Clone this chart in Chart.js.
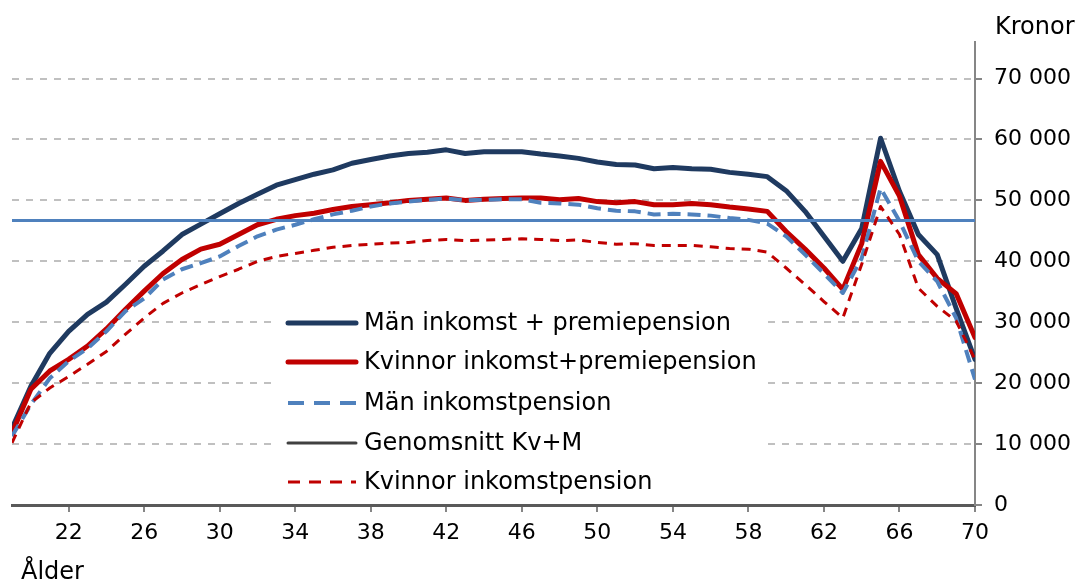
<!DOCTYPE html>
<html>
<head>
<meta charset="utf-8">
<script src="https://cdn.jsdelivr.net/npm/chart.js@4.4.0/dist/chart.umd.min.js"></script>
<style>
  body { margin: 0; background: #fff; }
</style>
</head>
<body>
<canvas id="chart" width="1085" height="584"></canvas>
<script>
const ages = [19, 20, 21, 22, 23, 24, 25, 26, 27, 28, 29, 30, 31, 32, 33, 34, 35, 36, 37, 38, 39, 40, 41, 42, 43, 44,
  45, 46, 47, 48, 49, 50, 51, 52, 53, 54, 55, 56, 57, 58, 59, 60, 61, 62, 63, 64, 65, 66, 67, 68, 69, 70];

const menTotal = [12600, 19500, 24900, 28500, 31300, 33300, 36200, 39200, 41700, 44400, 46100,
  47800, 49500, 51000, 52500, 53400, 54300, 55000, 56100, 56700, 57300,
  57700, 57900, 58300, 57700, 58000, 58000, 58000, 57600, 57300, 56900, 56300,
  55900, 55800, 55200, 55400, 55200, 55100, 54600, 54300, 53900, 51600,
  48200, 44100, 40000, 45400, 60200, 51500, 44400, 41100, 32300, 23900];

const womenTotal = [11800, 19000, 22000, 23900, 26100, 28900, 32100, 35100, 38000, 40300, 42000,
  42800, 44400, 46000, 46900, 47500, 47900, 48500, 49000, 49300, 49600,
  50000, 50200, 50400, 50000, 50200, 50300, 50400, 50400, 50100, 50300, 49800,
  49600, 49800, 49300, 49300, 49500, 49300, 48900, 48600, 48200, 44900,
  42000, 38900, 35400, 42900, 56400, 50700, 41100, 37200, 34700, 27500];

const menIncome = [11300, 16500, 20800, 23600, 25700, 28500, 31800, 33900, 37000, 38700, 39700,
  40800, 42500, 44100, 45200, 46000, 46900, 47700, 48300, 49000, 49500,
  49800, 50100, 50300, 50000, 50100, 50200, 50200, 49600, 49500, 49300, 48700,
  48300, 48200, 47700, 47800, 47700, 47500, 47100, 46800, 46200, 44100,
  41100, 38000, 34800, 40500, 52000, 46600, 40000, 36700, 30700, 20600];

const womenIncome = [10200, 16800, 19200, 21100, 23100, 25200, 28000, 30700, 33100, 34800, 36200,
  37500, 38700, 40000, 40800, 41300, 41800, 42300, 42600, 42800, 43000,
  43100, 43400, 43600, 43400, 43500, 43600, 43700, 43600, 43400, 43500, 43100,
  42800, 42900, 42600, 42600, 42600, 42400, 42100, 42000, 41500, 38900,
  36200, 33400, 30700, 39500, 49000, 44400, 35600, 32600, 30200, 23900];

const average = 46700;

const xTicks = [22, 26, 30, 34, 38, 42, 46, 50, 54, 58, 62, 66, 70];
const yTicks = [0, 10000, 20000, 30000, 40000, 50000, 60000, 70000];

const FONT = 'DejaVu Sans';

const toPoints = vals => vals.map((v, i) => ({ x: ages[i], y: v }));

// custom legend (sits inside the plot on a white box) plus axis captions
const overlay = {
  id: 'overlay',
  beforeDatasetsDraw(chart) {
    const c = chart.ctx;
    c.save();
    c.fillStyle = '#fff';
    c.fillRect(278, 295, 488, 206);
    c.restore();
  },
  afterDraw(chart) {
    const c = chart.ctx;
    const items = [
      { label: 'Män inkomst + premiepension', color: '#1f3a60', width: 5, dash: [] },
      { label: 'Kvinnor inkomst+premiepension', color: '#c00000', width: 5, dash: [] },
      { label: 'Män inkomstpension', color: '#4f81bd', width: 4, dash: [16, 10] },
      { label: 'Genomsnitt Kv+M', color: '#404040', width: 3, dash: [] },
      { label: 'Kvinnor inkomstpension', color: '#c00000', width: 3, dash: [12, 9] }
    ];
    const rowY = [323, 362, 403, 443, 482];
    c.save();
    c.font = '24px "' + FONT + '"';
    c.textBaseline = 'middle';
    items.forEach((it, i) => {
      c.beginPath();
      c.lineWidth = it.width;
      c.strokeStyle = it.color;
      c.lineCap = it.dash.length ? 'butt' : 'round';
      c.setLineDash(it.dash);
      c.moveTo(288, rowY[i]);
      c.lineTo(356, rowY[i]);
      c.stroke();
      c.setLineDash([]);
      c.fillStyle = '#000';
      c.fillText(it.label, 364, rowY[i] + 1);
    });
    c.fillText('Kronor', 995, 28);
    c.fillText('Ålder', 21, 573);
    c.restore();
  }
};

new Chart(document.getElementById('chart'), {
  type: 'line',
  data: {
    datasets: [
      {
        label: 'Män inkomst + premiepension',
        data: toPoints(menTotal),
        borderColor: '#1f3a60',
        borderWidth: 5,
        order: 5
      },
      {
        label: 'Kvinnor inkomst+premiepension',
        data: toPoints(womenTotal),
        borderColor: '#c00000',
        borderWidth: 5,
        order: 4
      },
      {
        label: 'Män inkomstpension',
        data: toPoints(menIncome),
        borderColor: '#4f81bd',
        borderWidth: 4,
        borderDash: [13, 7],
        borderCapStyle: 'butt',
        order: 3
      },
      {
        label: 'Genomsnitt Kv+M',
        data: [{ x: ages[0], y: average }, { x: ages[ages.length - 1], y: average }],
        borderColor: '#4f81bd',
        borderWidth: 3,
        borderCapStyle: 'butt',
        order: 2
      },
      {
        label: 'Kvinnor inkomstpension',
        data: toPoints(womenIncome),
        borderColor: '#c00000',
        borderWidth: 3,
        borderDash: [9, 7],
        borderCapStyle: 'butt',
        order: 1
      }
    ]
  },
  options: {
    responsive: false,
    animation: false,
    layout: { padding: { left: 12, top: 42, right: 0, bottom: 0 } },
    elements: {
      point: { radius: 0, hoverRadius: 0 },
      line: { tension: 0, borderJoinStyle: 'round', borderCapStyle: 'round', fill: false }
    },
    plugins: {
      legend: { display: false },
      tooltip: { enabled: false }
    },
    scales: {
      x: {
        type: 'linear',
        position: 'bottom',
        min: 19,
        max: 70,
        afterBuildTicks: s => { s.ticks = xTicks.map(v => ({ value: v })); },
        afterFit: s => { s.height = 79; },
        ticks: {
          autoSkip: false,
          maxRotation: 0,
          color: '#000',
          padding: 8,
          font: { family: FONT, size: 22 }
        },
        grid: {
          drawOnChartArea: false,
          drawTicks: true,
          tickLength: 7,
          tickColor: '#868686',
          lineWidth: 2
        },
        border: { color: '#595959', width: 3 }
      },
      y: {
        position: 'right',
        min: 0,
        max: 76000,
        afterBuildTicks: s => { s.ticks = yTicks.map(v => ({ value: v })); },
        afterFit: s => { s.width = 110; },
        ticks: {
          color: '#000',
          padding: 12,
          font: { family: FONT, size: 22 },
          callback: v => v === 0 ? '0' : String(v / 1000) + ' 000'
        },
        grid: {
          color: ctx => ctx.tick && ctx.tick.value === 0 ? 'rgba(0,0,0,0)' : '#c0c0c0',
          lineWidth: 2,
          tickLength: 7,
          tickColor: '#868686',
          tickBorderDash: []
        },
        border: { color: '#868686', width: 2, dash: [7, 7] }
      }
    }
  },
  plugins: [overlay]
});
</script>
</body>
</html>
